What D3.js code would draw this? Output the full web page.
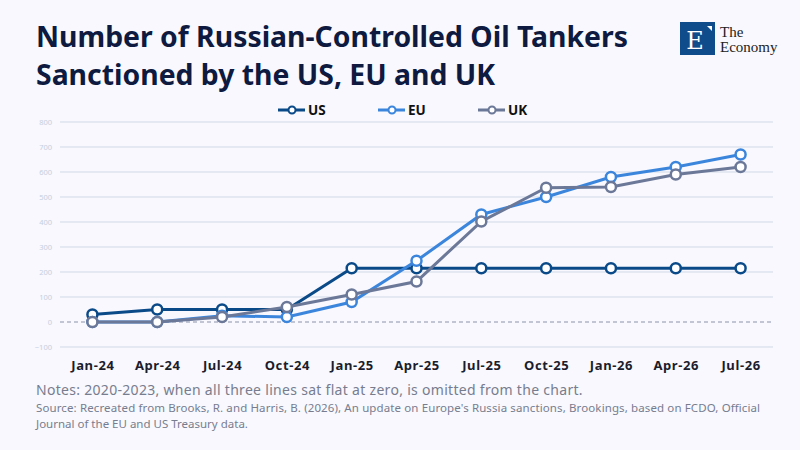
<!DOCTYPE html>
<html>
<head>
<meta charset="utf-8">
<script src="https://cdn.jsdelivr.net/npm/d3@7"></script>
<style>
  body { margin: 0; background: #f8f8fe; }
  svg { display: block; }
</style>
</head>
<body>
<div id="chart"></div>
<script>
// chart data
var months = ["Jan-24", "Apr-24", "Jul-24", "Oct-24", "Jan-25", "Apr-25", "Jul-25", "Oct-25", "Jan-26", "Apr-26", "Jul-26"];
var usValues = [30, 50, 50, 50, 215, 215, 215, 215, 215, 215, 215];
var euValues = [0, 0, 25, 20, 80, 245, 430, 500, 580, 620, 670];
var ukValues = [0, 0, 20, 60, 110, 162, 402, 537, 540, 590, 620];
var seriesNames = ["US", "EU", "UK"];
var yTicks = [-100, 0, 100, 200, 300, 400, 500, 600, 700, 800];

var seriesColor = { US: "#0b4a89", EU: "#3b86dc", UK: "#6c7898" };
var series = [
  { name: "US", values: usValues },
  { name: "EU", values: euValues },
  { name: "UK", values: ukValues }
];

var W = 800, H = 450;
var margin = { top: 122, right: 27, bottom: 103, left: 60 };
var width = W - margin.left - margin.right;
var height = H - margin.top - margin.bottom;
var sans = "'Noto Sans', 'Open Sans', sans-serif";

var svg = d3.select("#chart").append("svg")
  .attr("width", W)
  .attr("height", H)
  .style("background", "#f8f8fe");

// shrink or grow a text node's font so it spans a given width
function fitWidth(sel, target) {
  var fs = +sel.attr("font-size");
  var len = sel.node().getComputedTextLength();
  if (len > 0) sel.attr("font-size", fs * target / len);
}

// title
var t1 = svg.append("text")
  .attr("x", 36).attr("y", 47)
  .attr("font-family", sans)
  .attr("font-weight", 700)
  .attr("font-size", 27)
  .attr("fill", "#0e1a40")
  .text("Number of Russian-Controlled Oil Tankers");
fitWidth(t1, 592);
svg.append("text")
  .attr("x", 36).attr("y", 85)
  .attr("font-family", sans)
  .attr("font-weight", 700)
  .attr("font-size", t1.attr("font-size"))
  .attr("fill", "#0e1a40")
  .text("Sanctioned by the US, EU and UK");

// logo
var logo = svg.append("g").attr("transform", "translate(680,22)");
logo.append("rect").attr("width", 35).attr("height", 33).attr("fill", "#0f4c8c");
logo.append("path").attr("d", "M27,4 L32,4 L32,9 Z").attr("fill", "#fff");
logo.append("text").attr("x", 15).attr("y", 27)
  .attr("text-anchor", "middle")
  .attr("font-family", "'DejaVu Serif', 'Liberation Serif', serif")
  .attr("font-size", 24).attr("fill", "#fff").text("E");
logo.append("text").attr("x", 40).attr("y", 15)
  .attr("font-family", "'Liberation Serif', serif")
  .attr("font-size", 15).attr("fill", "#222").text("The");
logo.append("text").attr("x", 40).attr("y", 30)
  .attr("font-family", "'Liberation Serif', serif")
  .attr("font-size", 15).attr("fill", "#222").text("Economy");

var g = svg.append("g")
  .attr("transform", "translate(" + margin.left + "," + margin.top + ")");

var x = d3.scalePoint()
  .domain(months)
  .range([0, width])
  .padding(0.5);

var y = d3.scaleLinear()
  .domain([-100, 800])
  .range([225, 0]);

// grid lines
g.selectAll(".grid")
  .data(yTicks.filter(function (d) { return d !== 0; }))
  .enter().append("line")
  .attr("x1", 0).attr("x2", width)
  .attr("y1", function (d) { return y(d); })
  .attr("y2", function (d) { return y(d); })
  .attr("stroke", "#d1d9e6")
  .attr("stroke-width", 1);

// zero line
g.append("line")
  .attr("x1", 0).attr("x2", width)
  .attr("y1", y(0)).attr("y2", y(0))
  .attr("stroke", "#8a92aa")
  .attr("stroke-width", 1)
  .attr("stroke-dasharray", "4,3");

// y axis
var yAxis = g.append("g")
  .call(d3.axisLeft(y).tickValues(yTicks).tickSize(0).tickPadding(8));
yAxis.select(".domain").remove();
yAxis.selectAll("text")
  .attr("font-family", sans)
  .attr("font-size", 7.5)
  .attr("fill", "#c5cfe0");

// x axis
var xAxis = g.append("g")
  .attr("transform", "translate(0," + 225 + ")")
  .call(d3.axisBottom(x).tickSize(0).tickPadding(14));
xAxis.select(".domain").remove();
xAxis.selectAll("text")
  .attr("font-family", sans)
  .attr("font-weight", 700)
  .attr("font-size", 13)
  .attr("letter-spacing", 0.6)
  .attr("fill", "#1b1d2c");

// lines
var line = d3.line()
  .x(function (d, i) { return x(months[i]); })
  .y(function (d) { return y(d); });

var sg = g.selectAll(".series")
  .data(series)
  .enter().append("g")
  .attr("class", "series");

sg.append("path")
  .attr("d", function (d) { return line(d.values); })
  .attr("fill", "none")
  .attr("stroke", function (d) { return seriesColor[d.name]; })
  .attr("stroke-width", 3);

sg.selectAll("circle")
  .data(function (d) { return d.values.map(function (v, i) { return { name: d.name, v: v, i: i }; }); })
  .enter().append("circle")
  .attr("cx", function (d) { return x(months[d.i]); })
  .attr("cy", function (d) { return y(d.v); })
  .attr("r", 5)
  .attr("fill", "#fff")
  .attr("stroke", function (d) { return seriesColor[d.name]; })
  .attr("stroke-width", 2.5);

// legend
var legend = svg.selectAll(".legend")
  .data(seriesNames)
  .enter().append("g")
  .attr("transform", function (d, i) { return "translate(" + (278 + i * 100) + ",110)"; });
legend.append("line")
  .attr("x1", 0).attr("x2", 27)
  .attr("stroke", function (d) { return seriesColor[d]; })
  .attr("stroke-width", 3);
legend.append("circle")
  .attr("cx", 14).attr("r", 3.5)
  .attr("fill", "#fff")
  .attr("stroke", function (d) { return seriesColor[d]; })
  .attr("stroke-width", 2);
legend.append("text")
  .attr("x", 30).attr("y", 5)
  .attr("font-family", sans)
  .attr("font-weight", 700)
  .attr("font-size", 13.5)
  .attr("fill", "#111")
  .text(function (d) { return d; });

// notes and source
svg.append("text")
  .attr("x", 36).attr("y", 395)
  .attr("font-family", sans)
  .attr("font-size", 14)
  .attr("letter-spacing", 0.3)
  .attr("fill", "#777d8e")
  .text("Notes: 2020-2023, when all three lines sat flat at zero, is omitted from the chart.");
svg.append("text")
  .attr("x", 36).attr("y", 412)
  .attr("font-family", sans)
  .attr("font-size", 11.5)
  .attr("textLength", 724)
  .attr("lengthAdjust", "spacing")
  .attr("fill", "#777d8e")
  .text("Source: Recreated from Brooks, R. and Harris, B. (2026), An update on Europe's Russia sanctions, Brookings, based on FCDO, Official");
svg.append("text")
  .attr("x", 36).attr("y", 428)
  .attr("font-family", sans)
  .attr("font-size", 11.5)
  .attr("fill", "#777d8e")
  .text("Journal of the EU and US Treasury data.");
</script>
</body>
</html>
